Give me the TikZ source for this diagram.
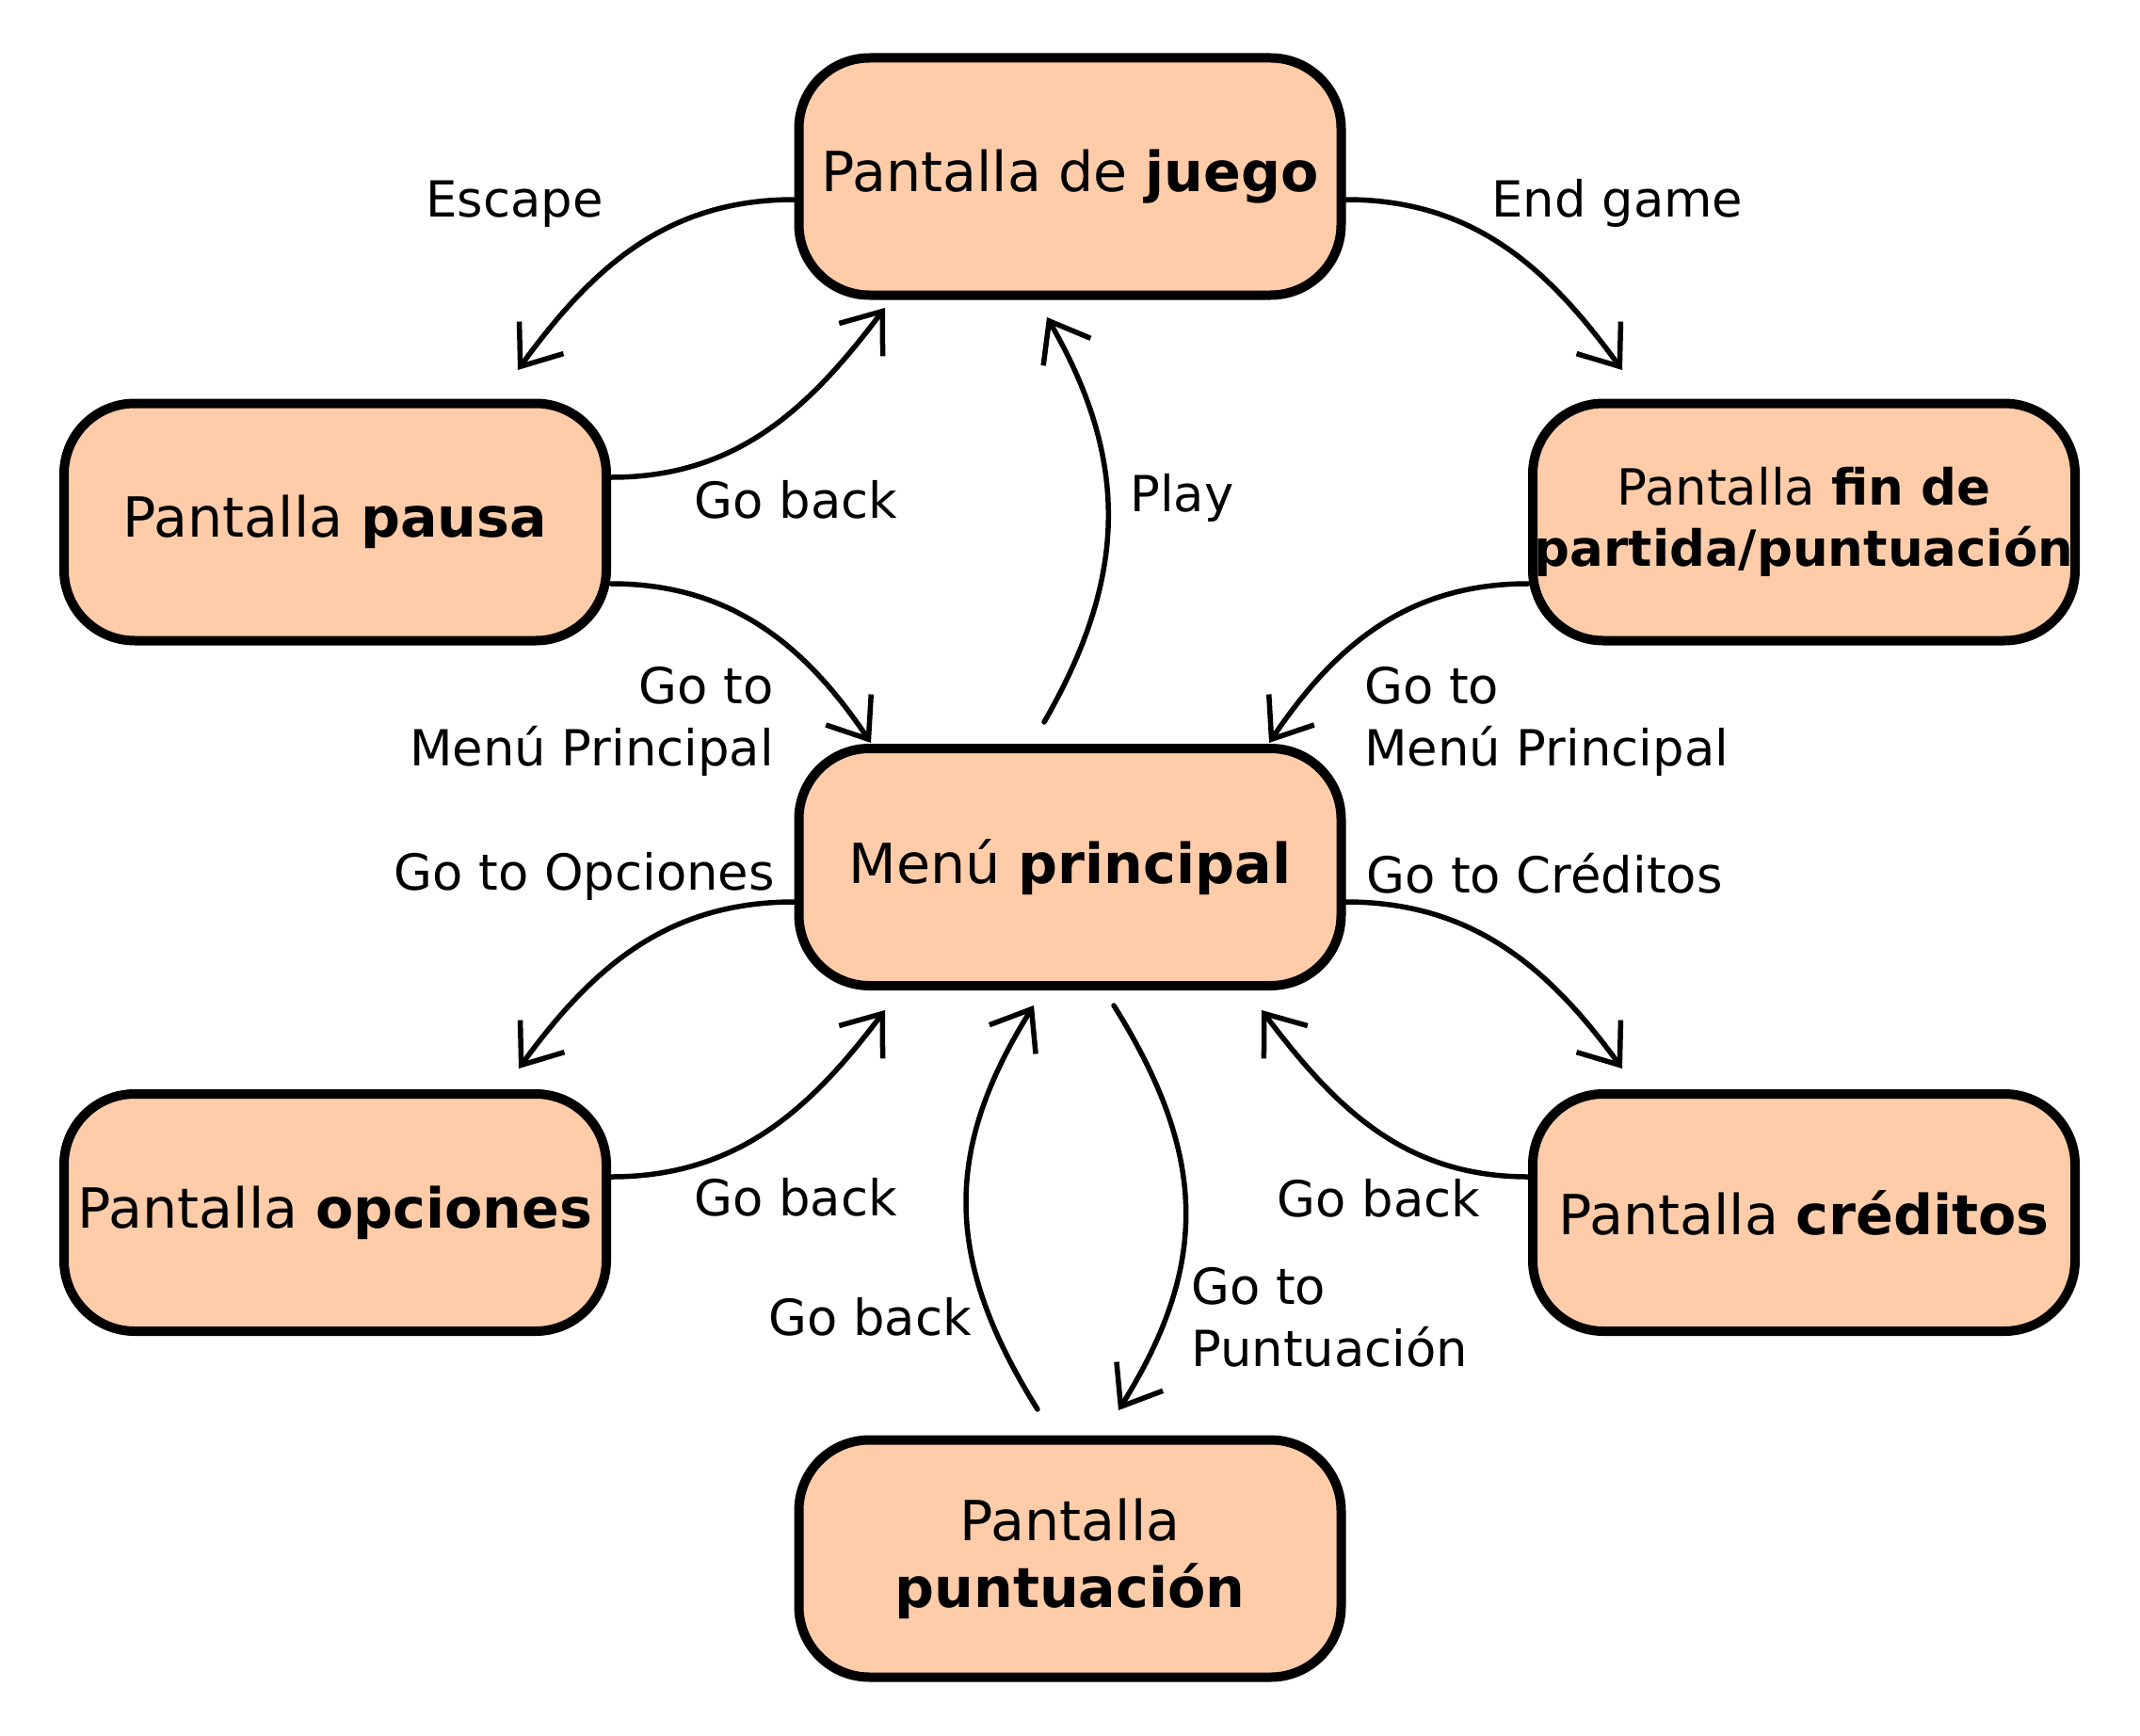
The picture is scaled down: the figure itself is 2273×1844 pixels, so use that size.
\documentclass[tikz,border=0pt]{standalone}
\usepackage{fontspec}
\setmainfont{DejaVu Sans}
\usetikzlibrary{arrows.meta}
\definecolor{peach}{RGB}{254,204,168}
\tikzset{
  state/.style={draw=black, line width=10pt, fill=peach, rounded corners=75pt,
    minimum width=576pt, minimum height=252pt, align=center, inner sep=0pt,
    font=\fontsize{58.7}{71}\selectfont},
  trans/.style={line width=5.5pt, line cap=round, draw=black,
    -{Straight Barb[length=38pt,width=58pt]}},
  lbl/.style={font=\fontsize{52.8}{66}\selectfont, inner sep=0pt},
}
\begin{document}
\begin{tikzpicture}[x=1pt,y=1pt]
\useasboundingbox (0,0) rectangle (2273,-1844);

% states
\node[state] (juego) at (1136.5,-187.5) {Pantalla de \textbf{juego}};
\node[state] (pausa) at (356,-554.5) {Pantalla \textbf{pausa}};
\node[state, font=\fontsize{53}{65}\selectfont] (fin) at (1916,-554.5) {Pantalla \textbf{fin de}\\\textbf{partida/puntuación}};
\node[state] (menu) at (1136.5,-921) {Menú \textbf{principal}};
\node[state] (opciones) at (356,-1288) {Pantalla \textbf{opciones}};
\node[state] (creditos) at (1916,-1288) {Pantalla \textbf{créditos}};
\node[state] (punt) at (1136.5,-1655.5) {Pantalla\\\textbf{puntuación}};

% transitions
\draw[trans] ([yshift=-24.5pt]juego.west) to[out=180,in=54] ([xshift=194pt,yshift=30.5pt]pausa.north);
\draw[trans] ([yshift=47.5pt]pausa.east) to[out=0,in=233] ([xshift=-196.5pt,yshift=-8.5pt]juego.south);
\draw[trans] ([yshift=-65.5pt]pausa.east) to[out=0,in=124] ([xshift=-211.5pt,yshift=1pt]menu.north);
\draw[trans] ([xshift=-27.5pt,yshift=23pt]menu.north) to[out=60,in=-60,looseness=1.05] ([xshift=-24.5pt,yshift=-18.5pt]juego.south);
\draw[trans] ([yshift=-24.5pt]juego.east) to[out=0,in=126] ([xshift=-193pt,yshift=30.5pt]fin.north);
\draw[trans] ([yshift=-65.5pt]fin.west) to[out=180,in=56] ([xshift=211.5pt,yshift=1pt]menu.north);
\draw[trans] ([yshift=-37pt]menu.west) to[out=180,in=54] ([xshift=195pt,yshift=22pt]opciones.north);
\draw[trans] ([yshift=38pt]opciones.east) to[out=0,in=233] ([xshift=-196.5pt,yshift=-21pt]menu.south);
\draw[trans] ([yshift=-37pt]menu.east) to[out=0,in=126] ([xshift=-193pt,yshift=22pt]creditos.north);
\draw[trans] ([yshift=38pt]creditos.west) to[out=180,in=-53] ([xshift=203.5pt,yshift=-21pt]menu.south);
\draw[trans] ([xshift=-34.5pt,yshift=27.5pt]punt.north) to[out=122,in=-122,looseness=1.1] ([xshift=-38.5pt,yshift=-16pt]menu.south);
\draw[trans] ([xshift=46.5pt,yshift=-16pt]menu.south) to[out=-58,in=58,looseness=1.1] ([xshift=51.5pt,yshift=26.5pt]punt.north);

% labels
\node[lbl, anchor=base] (lEscape) at (546.5,-230) {Escape};
\node[lbl, anchor=base] (lBackPausa) at (845.5,-550) {Go back};
\node[lbl, anchor=east, align=right] (lMenuL) at (822,-766) {Go to\\Menú Principal};
\node[lbl, anchor=base west] (lPlay) at (1200,-543) {Play};
\node[lbl, anchor=base] (lEnd) at (1718,-230) {End game};
\node[lbl, anchor=west, align=left] (lMenuR) at (1449,-766) {Go to\\Menú Principal};
\node[lbl, anchor=base east] (lOpc) at (823,-945) {Go to Opciones};
\node[lbl, anchor=base west] (lCred) at (1451,-948) {Go to Créditos};
\node[lbl, anchor=base] (lBackOpc) at (845,-1291) {Go back};
\node[lbl, anchor=base] (lBackCred) at (1464.5,-1292) {Go back};
\node[lbl, anchor=base] (lBackPunt) at (924,-1418) {Go back};
\node[lbl, anchor=west, align=left] (lPunt) at (1265,-1399.5) {Go to\\Puntuación};
\end{tikzpicture}
\end{document}
